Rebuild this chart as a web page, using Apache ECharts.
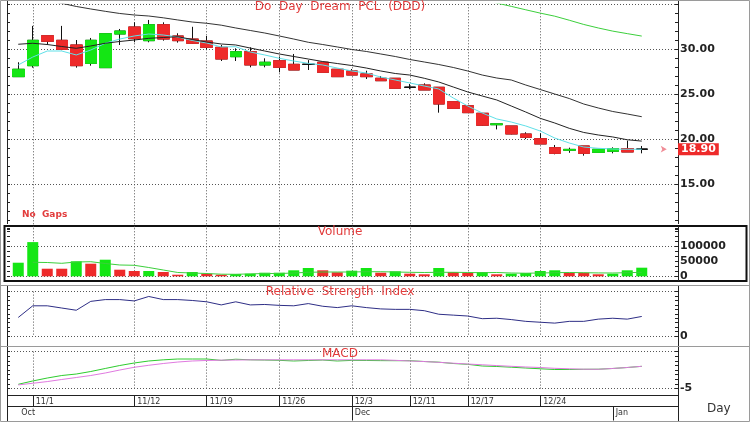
<!DOCTYPE html>
<html>
<head>
<meta charset="utf-8">
<script src="https://cdn.jsdelivr.net/npm/echarts/dist/echarts.min.js"></script>
<style>
  html, body { margin: 0; padding: 0; background: #fff; }
  #chart { width: 750px; height: 422px; }
</style>
</head>
<body>
<div id="chart"></div>
<script>
// dates / tick labels
const dates = ['10/31','11/1','11/2','11/5','11/6','11/7','11/8','11/9',
  '11/12','11/13','11/14','11/15','11/16',
  '11/19','11/20','11/21','11/22','11/23',
  '11/26','11/27','11/28','11/29','11/30',
  '12/3','12/4','12/5','12/6',
  '12/11','12/12','12/13','12/14',
  '12/17','12/18','12/19','12/20','12/21',
  '12/24','12/26','12/27','12/28','12/31',
  '1/2','1/3','1/4'];
const weekLabels = ['11/1','11/12','11/19','11/26','12/3','12/11','12/17','12/24'];
const monthStarts = ['10/31','12/3','1/2'];
const monthNames = ['Oct','Dec','Jan'];

// price
const openP  = [26.96,28.18,31.51,31.0,30.48,28.44,27.96,31.7,32.48,30.96,32.73,31.48,31.14,30.92,30.22,29.18,29.73,28.26,28.73,28.33,28.33,28.56,27.78,27.59,27.26,26.78,26.78,25.78,26.03,25.78,24.18,23.73,22.89,21.62,21.48,20.59,20.07,19.07,18.78,19.26,18.55,18.67,18.96,18.9];
const closeP = [27.78,31.0,30.89,30.0,28.18,31.0,31.73,32.03,31.18,32.73,31.14,30.96,30.67,30.22,28.92,29.73,28.26,28.56,28.0,27.7,28.33,27.44,26.96,27.14,26.96,26.51,25.67,25.78,25.48,23.92,23.44,22.96,21.56,21.72,20.59,20.22,19.48,18.44,18.88,18.44,18.89,18.96,18.59,18.9];
const lowP   = [26.96,27.96,30.48,29.9,27.96,28.18,27.96,30.48,30.78,30.78,30.96,30.74,30.6,30.0,28.7,28.7,28.0,28.0,27.44,27.7,27.7,27.44,26.96,27.14,26.7,26.51,25.67,25.56,25.48,22.96,23.44,22.96,21.48,21.1,20.55,20.03,19.48,18.33,18.5,18.18,18.55,18.44,18.59,18.44];
const highP  = [28.56,32.6,31.51,32.6,31.03,31.26,31.73,32.26,33.0,33.26,33.0,31.78,32.5,31.48,30.48,30.11,30.22,29.0,29.18,29.48,28.8,28.56,27.78,27.81,27.62,27.03,26.78,26.14,26.22,25.78,24.18,23.73,22.89,21.72,21.48,20.78,20.67,19.37,19.07,19.26,18.89,19.11,19.85,19.26];

// moving averages
const maCyan = [28.26,29.14,29.81,29.81,29.37,29.92,30.67,31.14,31.48,31.7,31.59,31.37,30.98,30.7,30.26,30.29,29.7,29.37,29.0,28.7,28.44,28.26,27.92,27.59,27.37,26.92,26.59,26.26,25.92,25.59,24.59,23.7,22.92,22.26,21.92,21.48,20.92,20.14,19.59,19.14,19.0,18.92,18.89,18.89];
const maBlack1 = [30.56,30.67,30.53,30.31,30.11,30.37,30.67,30.87,31.03,31.22,31.31,31.4,31.09,30.81,30.59,30.48,30.14,29.81,29.48,29.2,28.92,28.64,28.42,28.2,27.92,27.59,27.31,27.14,26.78,26.37,25.81,25.26,24.81,24.37,23.7,23.03,22.33,21.81,21.22,20.76,20.48,20.26,19.95,19.8];
const maBlack2 = [null,null,35.4,35.11,34.76,34.48,34.22,33.98,33.81,33.7,33.5,33.26,33.03,32.89,32.68,32.37,32.09,31.81,31.48,31.14,30.78,30.53,30.26,29.98,29.76,29.48,29.2,28.87,28.59,28.31,27.98,27.59,27.14,26.81,26.59,26.03,25.53,25.03,24.53,23.92,23.48,23.09,22.81,22.51];
const maGreen = [null,null,null,null,null,null,null,null,null,null,null,null,null,null,null,null,null,null,null,null,null,null,null,null,null,null,null,null,null,null,null,null,35.53,35.14,34.77,34.39,34.02,33.68,33.23,32.76,32.37,32.02,31.74,31.47];

// volume
const volume = [45300,114000,25300,25300,50000,42000,55300,22000,17700,17700,14300,5300,14300,8700,5300,7700,8700,12000,12000,20000,27700,20000,13300,18700,27700,12000,16700,8700,6700,27700,14300,12000,14300,6700,8700,11000,17700,20000,12000,12000,6700,8700,20000,28700];
const volUp = [1,1,0,0,1,0,1,0,0,1, 0,0,1,0,0,1,1,1,1,1, 1,0,0,1,1,0,1,0,0,1, 0,0,1,0,1,1,1,1,0,0, 0,1,1,1];
const volMa = [null,46700,46000,43300,47700,48700,42700,37700,36700,29300,21000,12700,11000,9300,7000,6700,8000,9300,9300,11000,13300,14300,14300,14300,15300,15300,14300,13300,12700,13300,13300,12700,12000,12700,11000,10300,11000,12000,12700,12000,11300,11000,12000,13300];

// indicators
const rsi = [41.8,68,68,63,58,78,82,82,79,89,82,82,80,77,70,77,70,71,69,68,73,67,64,68,64,61,60,60,57,49,47,45,39,40,37,33,31,29,33,33,38,40,38,44];
const macd = [-4.42,-3.97,-3.57,-3.23,-3.03,-2.69,-2.28,-1.88,-1.54,-1.27,-1.11,-1.0,-1.0,-1.0,-1.19,-1.03,-1.11,-1.14,-1.18,-1.27,-1.2,-1.14,-1.27,-1.19,-1.2,-1.22,-1.23,-1.23,-1.34,-1.43,-1.61,-1.72,-1.95,-2.01,-2.11,-2.22,-2.32,-2.42,-2.42,-2.39,-2.38,-2.28,-2.15,-1.99];
const signal = [-4.5,-4.28,-4.05,-3.77,-3.5,-3.23,-2.89,-2.49,-2.12,-1.85,-1.61,-1.41,-1.27,-1.2,-1.16,-1.14,-1.11,-1.11,-1.11,-1.11,-1.11,-1.11,-1.11,-1.11,-1.11,-1.11,-1.18,-1.27,-1.34,-1.45,-1.57,-1.68,-1.78,-1.89,-1.99,-2.08,-2.15,-2.26,-2.32,-2.38,-2.39,-2.28,-2.15,-1.99];

const GREEN = '#14e614', RED = '#ee2a2a', INK = '#222', TITLE = '#e23c3c';
const FONT = 'DejaVu Sans';
const cats = dates.concat([' ', '  ']); // two empty slots before the price axis
const weekIdx = weekLabels.map(d => dates.indexOf(d));
const monthIdx = monthStarts.map(d => dates.indexOf(d));
const isWeek = (i) => weekIdx.indexOf(i) >= 0;
const dotted = { color: '#555', type: [1, 2], width: 1 };
const last = closeP.length - 1;

let myChart = echarts.init(document.getElementById('chart'));

const xBase = (g) => ({
  type: 'category', gridIndex: g, position: 'bottom', data: cats, boundaryGap: true,
  axisLine: { show: false }, axisTick: { show: false }, axisLabel: { show: false },
  splitLine: { show: true, alignWithLabel: true, interval: (i) => isWeek(i), lineStyle: dotted }
});
// 日期行: 分隔线 + 格内文字
const xRow = (g, showAt, sepAt, fmt) => ({
  type: 'category', gridIndex: g, position: 'top', data: cats, boundaryGap: true,
  axisLine: { show: false }, axisTick: { show: false },
  axisLabel: { show: true, inside: true, interval: showAt, formatter: fmt, align: 'left', margin: 2,
    padding: [0, 0, 0, 3], fontSize: 8, color: '#333', fontFamily: FONT },
  splitLine: { show: true, alignWithLabel: true, interval: sepAt, lineStyle: { color: INK, width: 1, type: 'solid' } }
});
const yBase = (g, pos, o) => Object.assign({
  type: 'value', gridIndex: g, position: pos, offset: pos === 'left' ? 4 : 0,
  axisLine: { show: false },
  axisTick: { show: true, inside: true, length: 3, lineStyle: { color: INK } },
  minorTick: { show: true, splitNumber: 5, length: 3, lineStyle: { color: INK } },
  axisLabel: { show: false },
  splitLine: { show: false }
}, o);
const lbl = (fmt) => ({ show: true, formatter: fmt, margin: 2, color: INK, fontSize: 11, fontWeight: 'bold', fontFamily: FONT });
const minor = (n) => ({ show: true, splitNumber: n, length: 3, lineStyle: { color: INK } });
const titleStyle = { color: TITLE, fontSize: 12, fontWeight: 'normal', fontFamily: FONT };

const vline = (x, y1, y2, c) => ({ type: 'line', shape: { x1: x, y1: y1, x2: x, y2: y2 }, style: { stroke: c || INK, lineWidth: 1 } });
const hline = (y, x1, x2, c) => ({ type: 'line', shape: { x1: x1, y1: y, x2: x2, y2: y }, style: { stroke: c || INK, lineWidth: 1 } });

let option = {
  backgroundColor: '#fff',
  animation: false,
  title: [
    { text: 'Do  Day  Dream  PCL  (DDD)', left: 340, top: 1, textAlign: 'center', padding: 0, textStyle: titleStyle },
    { text: 'Volume', left: 340, top: 226, textAlign: 'center', padding: 0, textStyle: titleStyle },
    { text: 'Relative  Strength  Index', left: 340, top: 286, textAlign: 'center', padding: 0, textStyle: titleStyle },
    { text: 'MACD', left: 340, top: 348, textAlign: 'center', padding: 0, textStyle: titleStyle },
    { text: 'No  Gaps', left: 22, top: 210, padding: 0, textStyle: { color: TITLE, fontSize: 9, fontFamily: FONT } }
  ],
  grid: [
    { left: 11, right: 72, top: 4.3, height: 225 },   // 价格
    { left: 11, right: 72, top: 228.3, height: 48 },  // 成交量
    { left: 11, right: 72, top: 291.6, height: 44.4 },// RSI
    { left: 11, right: 72, top: 351.6, height: 37 },  // MACD
    { left: 11, right: 72, top: 395.5, height: 11 },  // 周
    { left: 11, right: 72, top: 406.5, height: 14 }   // 月
  ],
  xAxis: [
    xBase(0), xBase(1), xBase(2), xBase(3),
    xRow(4, (i) => isWeek(i), (i) => isWeek(i), (v) => v),
    xRow(5, (i) => monthIdx.indexOf(i) >= 0, (i) => monthIdx.indexOf(i) > 0, (v, i) => monthNames[monthIdx.indexOf(i)] || '')
  ],
  yAxis: [
    yBase(0, 'right', { min: 10, max: 35, interval: 5,
      axisLabel: lbl(v => (v >= 15 && v <= 30) ? v.toFixed(2) : ''),
      splitLine: { show: true, showMinLine: false, lineStyle: dotted } }),
    yBase(0, 'left', { min: 10, max: 35, interval: 5 }),
    yBase(1, 'right', { min: 0, max: 160000, interval: 100000, axisTick: { show: false }, minorTick: { show: false },
      splitLine: { show: true, showMaxLine: false, lineStyle: dotted } }),
    yBase(1, 'right', { min: 0, max: 160000, interval: 50000, minorTick: minor(3),
      axisLabel: lbl(v => v <= 100000 ? String(v) : '') }),
    yBase(1, 'left', { min: 0, max: 160000, interval: 50000, minorTick: minor(3) }),
    yBase(2, 'right', { min: 0, max: 100, interval: 100, minorTick: minor(10),
      axisLabel: lbl(v => v === 0 ? '0' : ''), splitLine: { show: true, lineStyle: dotted } }),
    yBase(2, 'left', { min: 0, max: 100, interval: 100, minorTick: minor(10) }),
    yBase(3, 'right', { min: -5, max: 0, interval: 5, minorTick: minor(8),
      axisLabel: lbl(v => v === -5 ? '-5' : ''), splitLine: { show: true, lineStyle: dotted } }),
    yBase(3, 'left', { min: -5, max: 0, interval: 5, minorTick: minor(8) }),
    { type: 'value', gridIndex: 4, show: false },
    { type: 'value', gridIndex: 5, show: false }
  ],
  series: [
    { // 影线层
      type: 'candlestick', xAxisIndex: 0, yAxisIndex: 0, barWidth: 12,
      data: openP.map((o, i) => [o, closeP[i], lowP[i], highP[i]]),
      itemStyle: { color: GREEN, color0: RED, borderColor: '#111', borderColor0: '#111', borderColorDoji: '#111', borderWidth: 1 }
    },
    { // 实体层
      type: 'candlestick', xAxisIndex: 0, yAxisIndex: 0, barWidth: 12,
      data: openP.map((o, i) => [o, closeP[i], Math.min(o, closeP[i]), Math.max(o, closeP[i])]),
      itemStyle: { color: GREEN, color0: RED, borderColor: GREEN, borderColor0: RED, borderColorDoji: '#111', borderWidth: 1 },
      markLine: {
        silent: true, symbol: ['none', 'none'],
        lineStyle: { color: 'rgba(0,0,0,0)', width: 1, type: 'solid' },
        label: { show: true, position: 'end', distance: 0, formatter: closeP[last].toFixed(2),
          backgroundColor: RED, color: '#fff', fontWeight: 'bold', fontSize: 11, fontFamily: FONT, padding: [1, 3, 0, 3] },
        data: [{ yAxis: closeP[last] }]
      },
      markPoint: {
        silent: true, symbol: 'arrow', symbolRotate: -90, symbolSize: [5, 6], symbolOffset: [-4, 0],
        itemStyle: { color: '#f08c96' }, label: { show: false },
        data: [{ coord: [cats.length - 1, closeP[last]] }]
      }
    },
    { type: 'line', xAxisIndex: 0, yAxisIndex: 0, data: maCyan, showSymbol: false, lineStyle: { color: '#5fe0e8', width: 1 } },
    { type: 'line', xAxisIndex: 0, yAxisIndex: 0, data: maBlack1, showSymbol: false, lineStyle: { color: '#222', width: 1 } },
    { type: 'line', xAxisIndex: 0, yAxisIndex: 0, data: maBlack2, showSymbol: false, lineStyle: { color: '#333', width: 1 } },
    { type: 'line', xAxisIndex: 0, yAxisIndex: 0, data: maGreen, showSymbol: false, lineStyle: { color: '#3ccf3c', width: 1 } },
    { // 成交量
      type: 'bar', xAxisIndex: 1, yAxisIndex: 2, barWidth: 11,
      data: volume.map((v, i) => ({ value: v, itemStyle: { color: volUp[i] ? GREEN : RED } }))
    },
    { type: 'line', xAxisIndex: 1, yAxisIndex: 2, data: volMa, showSymbol: false, lineStyle: { color: '#3ccf3c', width: 1 } },
    { type: 'line', xAxisIndex: 2, yAxisIndex: 5, data: rsi, showSymbol: false, lineStyle: { color: '#2e2e86', width: 1 } },
    { type: 'line', xAxisIndex: 3, yAxisIndex: 7, data: macd, showSymbol: false, lineStyle: { color: '#2ecc2e', width: 1 } },
    { type: 'line', xAxisIndex: 3, yAxisIndex: 7, data: signal, showSymbol: false, lineStyle: { color: '#e07ae0', width: 1 } }
  ],
  graphic: [
    { type: 'rect', shape: { x: 0.5, y: 0.5, width: 749, height: 421 }, style: { fill: 'none', stroke: '#9a9a9a', lineWidth: 1 } },
    hline(285.5, 0, 750, '#9a9a9a'),
    hline(346.5, 0, 750, '#9a9a9a'),
    { type: 'rect', shape: { x: 4.5, y: 226, width: 742, height: 55 }, style: { fill: 'none', stroke: '#111', lineWidth: 2 } },
    // 坐标轴竖线
    vline(678.5, 1, 224), vline(678.5, 226, 281), vline(678.5, 286, 346), vline(678.5, 347, 421),
    vline(7.5, 1, 224), vline(7.5, 286, 346), vline(7.5, 347, 421),
    // 日期行
    hline(395.5, 7, 679), hline(406.5, 7, 679),
    { type: 'text', left: 707, top: 403, style: { text: 'Day', fill: '#333', fontSize: 12, fontFamily: FONT } }
  ]
};
myChart.setOption(option);
</script>
</body>
</html>
